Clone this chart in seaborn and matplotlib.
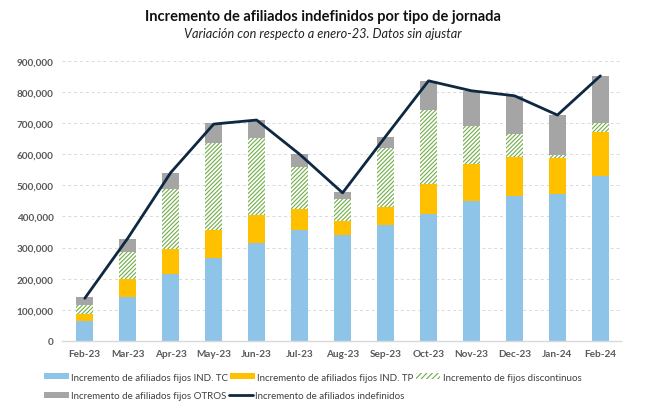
import numpy as np
import pandas as pd
import matplotlib
matplotlib.use("Agg")
import matplotlib.pyplot as plt
import seaborn as sns
from matplotlib.patches import Patch
from matplotlib.lines import Line2D

months = ["Feb-23", "Mar-23", "Apr-23", "May-23", "Jun-23", "Jul-23", "Aug-23",
          "Sep-23", "Oct-23", "Nov-23", "Dec-23", "Jan-24", "Feb-24"]
ind_tc = [63000, 141000, 215000, 265000, 315000, 355000, 342000, 374000, 409000, 450000, 467000, 471000, 531000]
ind_tp = [25000, 57000, 81000, 93000, 91000, 69000, 43000, 58000, 94000, 118000, 123000, 118000, 141000]
fijos_disc = [28000, 87000, 192000, 278000, 245000, 134000, 71000, 187000, 240000, 124000, 75000, 8000, 30000]
otros = [24000, 43000, 53000, 64000, 60000, 43000, 22000, 38000, 93000, 112000, 123000, 129000, 150000]
indefinidos = [137000, 330000, 541000, 697000, 710000, 600000, 476000, 657000, 836000, 804000, 788000, 726000, 852000]
yticks = [0, 100000, 200000, 300000, 400000, 500000, 600000, 700000, 800000, 900000]

labels = ["Incremento de afiliados fijos IND. TC",
          "Incremento de afiliados fijos IND. TP",
          "Incremento de fijos discontinuos",
          "Incremento de afiliados fijos OTROS",
          "Incremento de afiliados indefinidos"]

c_blue = "#8DC4E8"
c_yellow = "#FFC000"
c_green = "#70AD47"
c_grey = "#A5A5A5"
c_line = "#0E2841"

sns.set_theme(style="white")
plt.rcParams["font.family"] = ["Lato", "DejaVu Sans"]
plt.rcParams["hatch.linewidth"] = 0.8

df = pd.DataFrame({"mes": months, "tc": ind_tc, "tp": ind_tp, "fd": fijos_disc, "ot": otros})
df["l1"] = df["tc"]
df["l2"] = df["l1"] + df["tp"]
df["l3"] = df["l2"] + df["fd"]
df["l4"] = df["l3"] + df["ot"]

fig = plt.figure(figsize=(6.5, 4.1), dpi=100)
ax = fig.add_axes([0.0954, 0.166, 0.86, 0.683])

w = 0.39
sns.barplot(data=df, x="mes", y="l4", color=c_grey, saturation=1, width=w, ax=ax, linewidth=0, zorder=2)
sns.barplot(data=df, x="mes", y="l3", color="white", saturation=1, width=w, ax=ax,
            hatch="////////", edgecolor=c_green, linewidth=0, zorder=2)
sns.barplot(data=df, x="mes", y="l2", color=c_yellow, saturation=1, width=w, ax=ax, linewidth=0, zorder=2)
sns.barplot(data=df, x="mes", y="l1", color=c_blue, saturation=1, width=w, ax=ax, linewidth=0, zorder=2)
sns.lineplot(x=np.arange(len(months)), y=indefinidos, color=c_line, linewidth=2, ax=ax, zorder=3)

ax.set_xlim(-0.53, 12.48)
ax.set_ylim(0, 900000)
ax.set_yticks(yticks)
ax.set_yticklabels([f"{v:,}" for v in yticks])
ax.set_xticks(range(len(months)))
ax.set_xticklabels(months)
ax.set_xlabel("")
ax.set_ylabel("")
ax.yaxis.grid(True, linestyle=(0, (3, 3)), color="#D9D9D9", linewidth=0.7, zorder=0)
ax.set_axisbelow(True)
for s in ["top", "right", "left"]:
    ax.spines[s].set_visible(False)
ax.spines["bottom"].set_color("#D9D9D9")
ax.spines["bottom"].set_linewidth(1)
ax.tick_params(axis="both", length=0, labelsize=7.2, labelcolor="#595959", pad=6)
for t in ax.get_xticklabels() + ax.get_yticklabels():
    t.set_fontweight("bold")

fig.text(0.497, 0.958, "Incremento de afiliados indefinidos por tipo de jornada",
         ha="center", va="center", fontsize=10.5, fontweight="bold", color="#111111")
fig.text(0.497, 0.918, "Variación con respecto a enero-23. Datos sin ajustar",
         ha="center", va="center", fontsize=9.2, style="italic", color="#222222")

h_tc = Patch(facecolor=c_blue, edgecolor="none")
h_tp = Patch(facecolor=c_yellow, edgecolor="none")
h_fd = Patch(facecolor="white", edgecolor=c_green, hatch="//////", linewidth=0)
h_ot = Patch(facecolor=c_grey, edgecolor="none")
h_ln = Line2D([0], [0], color=c_line, linewidth=2)

common = dict(frameon=False, fontsize=7.0, handlelength=2.5, handleheight=0.5,
              handletextpad=0.25, columnspacing=0.25, borderaxespad=0, borderpad=0)
leg1 = fig.legend([h_tc, h_tp, h_fd], labels[:3], ncol=3, loc="center left",
                  bbox_to_anchor=(0.068, 0.078), **common)
leg2 = fig.legend([h_ot, h_ln], labels[3:], ncol=2, loc="center left",
                  bbox_to_anchor=(0.068, 0.032), **common)
for lg in (leg1, leg2):
    for t in lg.get_texts():
        t.set_color("#404040")

fig.savefig("out.png", dpi=100)
